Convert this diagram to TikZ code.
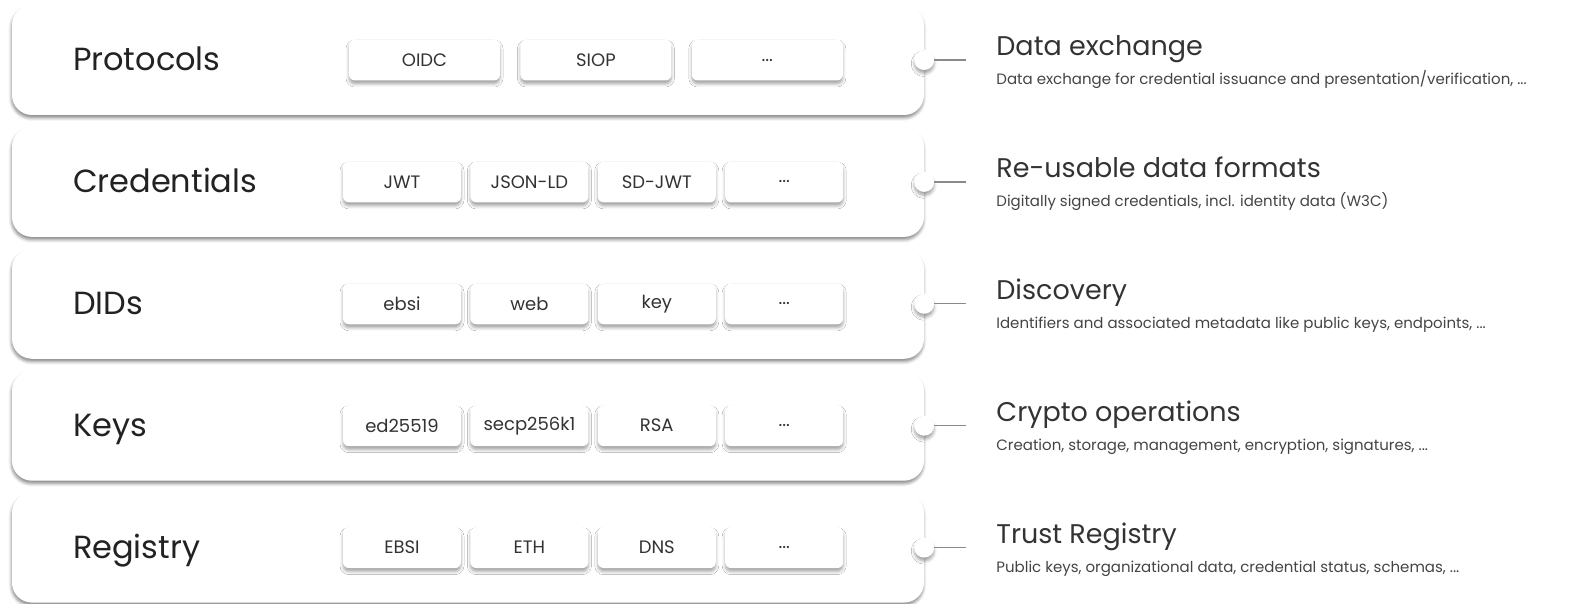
\documentclass[tikz,border=0pt]{standalone}
\usepackage{fontspec}
\setmainfont{Poppins}
\usetikzlibrary{positioning,shadows.blur}
\definecolor{ink}{HTML}{222222}
\definecolor{chiptext}{HTML}{333333}
\definecolor{ttlgray}{HTML}{333333}
\definecolor{dscgray}{HTML}{444444}
\definecolor{linkgray}{HTML}{8A8A8A}

\begin{document}
\begin{tikzpicture}[
  x=1pt, y=-1pt,
  node distance=11.5pt and 9pt,
  softshadow/.style={blur shadow={shadow xshift=-0.5pt, shadow yshift=-3pt,
              shadow blur radius=3pt, shadow opacity=45}},
  chipshadow/.style={blur shadow={shadow xshift=0pt, shadow yshift=-3.5pt,
              shadow blur radius=3pt, shadow opacity=35}},
  layer/.style={rectangle, rounded corners=20pt, fill=white, inner sep=0pt,
              minimum width=912pt, minimum height=110pt, softshadow},
  chip/.style={rectangle, rounded corners=6pt, fill=white, inner sep=0pt,
              minimum width=118pt, minimum height=41pt, text=chiptext,
              font=\fontsize{18}{20}\selectfont, chipshadow},
  chipw/.style={chip, minimum width=151pt},
  lbl/.style={anchor=base west, inner sep=0pt, text=ink,
              font=\fontsize{32}{35}\selectfont},
  dot/.style={circle, fill=white, minimum size=20pt, inner sep=0pt, chipshadow},
  link/.style={draw=linkgray, line width=1.3pt},
  ttl/.style={anchor=base west, inner sep=0pt, text=ttlgray,
              font=\fontsize{27}{30}\selectfont},
  dsc/.style={anchor=base west, inner sep=0pt, text=dscgray,
              font=\fontsize{15}{17}\selectfont}
]
\useasboundingbox (0,0) rectangle (1575,604);

% stacked layers
\node[layer] (proto) at (468,60) {};
\node[layer, below=of proto] (cred) {};
\node[layer, below=of cred] (dids) {};
\node[layer, below=of dids] (keys) {};
\node[layer, below=of keys] (reg) {};

% layer names
\node[lbl] at ([xshift=61pt, yshift=-11pt]proto.west) {Protocols};
\node[lbl] at ([xshift=61pt, yshift=-11pt]cred.west) {Credentials};
\node[lbl] at ([xshift=61pt, yshift=-11pt]dids.west) {DIDs};
\node[lbl] at ([xshift=61pt, yshift=-11pt]keys.west) {Keys};
\node[lbl] at ([xshift=61pt, yshift=-11pt]reg.west) {Registry};

% implementations
\node[chipw, right=337pt of proto.west] (oidc) {OIDC};
\node[chipw, right=20pt of oidc] (siop) {SIOP};
\node[chipw, right=20pt of siop] (pmore) {...};

\node[chip, right=331pt of cred.west] (jwt) {JWT};
\node[chip, right=of jwt] (jsonld) {JSON-LD};
\node[chip, right=of jsonld] (sdjwt) {SD-JWT};
\node[chip, right=of sdjwt] (cmore) {...};

\node[chip, right=331pt of dids.west] (ebsi) {ebsi};
\node[chip, right=of ebsi] (web) {web};
\node[chip, right=of web] (key) {key};
\node[chip, right=of key] (dmore) {...};

\node[chip, right=331pt of keys.west] (ed) {ed25519};
\node[chip, right=of ed] (secp) {secp256k1};
\node[chip, right=of secp] (rsa) {RSA};
\node[chip, right=of rsa] (kmore) {...};

\node[chip, right=331pt of reg.west] (ebsireg) {EBSI};
\node[chip, right=of ebsireg] (eth) {ETH};
\node[chip, right=of eth] (dns) {DNS};
\node[chip, right=of dns] (rmore) {...};

% connectors and descriptions
\node[dot] (protodot) at (proto.east) {};
\node[dot] (creddot) at (cred.east) {};
\node[dot] (didsdot) at (dids.east) {};
\node[dot] (keysdot) at (keys.east) {};
\node[dot] (regdot) at (reg.east) {};

\node[ttl] (protottl) at ([xshift=72pt, yshift=4pt]protodot.center) {Data exchange};
\node[dsc] at ([xshift=72pt, yshift=-25pt]protodot.center) {Data exchange for credential issuance and presentation/verification, ...};
\node[ttl] (credttl) at ([xshift=72pt, yshift=4pt]creddot.center) {Re-usable data formats};
\node[dsc] at ([xshift=72pt, yshift=-25pt]creddot.center) {Digitally signed credentials, incl. identity data (W3C)};
\node[ttl] (didsttl) at ([xshift=72pt, yshift=4pt]didsdot.center) {Discovery};
\node[dsc] at ([xshift=72pt, yshift=-25pt]didsdot.center) {Identifiers and associated metadata like public keys, endpoints, ...};
\node[ttl] (keysttl) at ([xshift=72pt, yshift=4pt]keysdot.center) {Crypto operations};
\node[dsc] at ([xshift=72pt, yshift=-25pt]keysdot.center) {Creation, storage, management, encryption, signatures, ...};
\node[ttl] (regttl) at ([xshift=72pt, yshift=4pt]regdot.center) {Trust Registry};
\node[dsc] at ([xshift=72pt, yshift=-25pt]regdot.center) {Public keys, organizational data, credential status, schemas, ...};

\draw[link] (protodot) -- ([xshift=-30pt]protottl.west |- protodot);
\draw[link] (creddot) -- ([xshift=-30pt]credttl.west |- creddot);
\draw[link] (didsdot) -- ([xshift=-30pt]didsttl.west |- didsdot);
\draw[link] (keysdot) -- ([xshift=-30pt]keysttl.west |- keysdot);
\draw[link] (regdot) -- ([xshift=-30pt]regttl.west |- regdot);
\end{tikzpicture}
\end{document}
